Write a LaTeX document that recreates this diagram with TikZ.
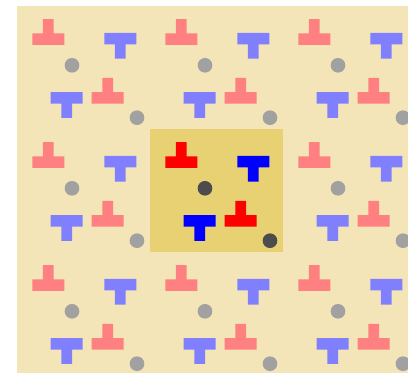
\documentclass[tikz,border=0pt]{standalone}
\usepackage{xcolor}
\usepackage{tikz}
\definecolor{sand}{HTML}{F3E5B7}
\definecolor{gold}{HTML}{E8D172}

\begin{document}
\begin{tikzpicture}[x=0.75pt, y=-0.75pt,
  tup/.pic={\path[pic actions] (-16,5.75) -- (16,5.75) -- (16,-5.75) -- (5.35,-5.75)
    -- (5.35,-20) -- (-5.35,-20) -- (-5.35,-5.75) -- (-16,-5.75) -- cycle;},
  tdown/.pic={\path[pic actions] (-16,-5.75) -- (16,-5.75) -- (16,5.75) -- (5.35,5.75)
    -- (5.35,20) -- (-5.35,20) -- (-5.35,5.75) -- (-16,5.75) -- cycle;},
  ball/.style={fill=#1}]
  \useasboundingbox (0,0) rectangle (408,373);
  \fill[sand] (17,6) rectangle (408,373);

  % faded copies of the cell
  \begin{scope}
    \clip (17,6) rectangle (408,373);
    \foreach \i in {0,1,2}
      \foreach \j in {0,1,2} {
        \begin{scope}[shift={(17+133*\i,6+123*\j)}]
          \pic[fill=red!50]  at (31.3,33.2)  {tup};
          \pic[fill=blue!50] at (103.3,32.7) {tdown};
          \pic[fill=blue!50] at (49.7,91.9)  {tdown};
          \pic[fill=red!50]  at (90.7,91.9)  {tup};
          \path[ball=black!37] (55,59.3) circle (5.5pt);
          \path[ball=black!37] (120,111.7) circle (5.5pt);
        \end{scope}
      }
  \end{scope}

  % highlighted cell
  \begin{scope}[shift={(150,129)}]
    \fill[gold] (0,0) rectangle (133,123);
    \pic[fill=red]  at (31.3,33.2)  {tup};
    \pic[fill=blue] at (103.3,32.7) {tdown};
    \pic[fill=blue] at (49.7,91.9)  {tdown};
    \pic[fill=red]  at (90.7,91.9)  {tup};
    \path[ball=black!70] (55,59.3) circle (5.5pt);
    \path[ball=black!70] (120,111.7) circle (5.5pt);
  \end{scope}
\end{tikzpicture}
\end{document}
